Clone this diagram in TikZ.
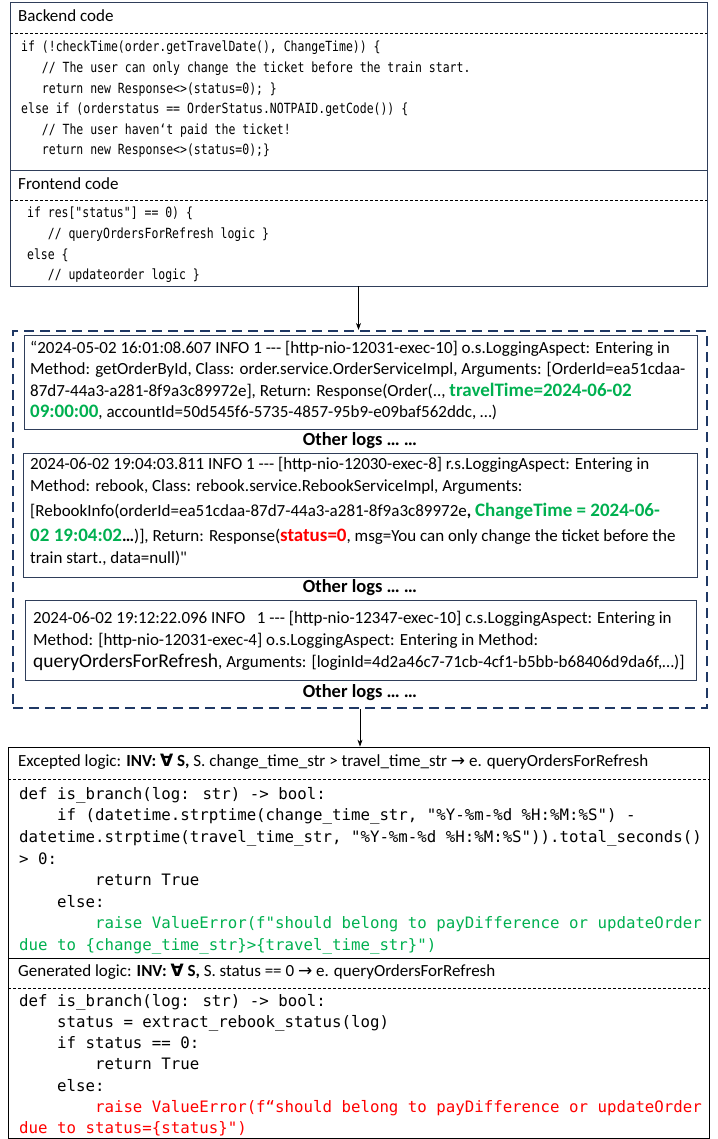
\documentclass[tikz,border=0pt]{standalone}
\usepackage{fontspec}
\setmainfont{Carlito}
\newfontfamily\logfont{Carlito}
\newfontfamily\codefont{DejaVu Sans Mono}
\newfontfamily\narrowcode{DejaVu Sans Mono}[FakeStretch=0.82]
\newfontfamily\symfont{DejaVu Sans}
\usetikzlibrary{arrows.meta}
\definecolor{loggreen}{RGB}{0,176,80}
\definecolor{logred}{RGB}{255,0,0}
\definecolor{navyline}{RGB}{31,56,100}
\definecolor{boxline}{RGB}{47,62,90}
\newcommand{\pad}[1]{\hspace*{#1\fontcharwd\font`x}}
\newcommand{\hlgreen}[1]{{\bfseries\fontsize{19}{22}\selectfont\color{loggreen}#1}}

\begin{document}
\begin{tikzpicture}[
  x=1pt, y=-1pt,
  % --- look of the boxes and texts ------------------------------------
  frame/.style={draw=boxline, line width=0.8pt, inner sep=0pt},
  logbox/.style={draw=boxline, line width=0.9pt, inner sep=0pt},
  logarea/.style={draw=navyline, line width=2.2pt, dash pattern=on 10pt off 6pt,
                  inner sep=0pt},
  result/.style={draw=black, line width=0.8pt, inner sep=0pt},
  title/.style={font=\logfont\fontsize{17}{20}\selectfont, anchor=west, inner sep=0pt},
  sepdash/.style={dash pattern=on 3pt off 2pt, line width=0.6pt},
  topcode/.style={font=\narrowcode\fontsize{14}{20.6}\selectfont, anchor=north west,
                  align=left, inner sep=0pt},
  pycode/.style={font=\codefont\fontsize{15.75}{21.6}\selectfont, anchor=north west,
                 align=left, inner sep=0pt},
  logtext/.style={font=\logfont\fontsize{17}{22}\selectfont, anchor=north west,
                  align=left, inner sep=0pt},
  otherlogs/.style={font=\logfont\bfseries\fontsize{18.5}{20}\selectfont, inner sep=0pt},
  flow/.style={-{Stealth[length=7pt,width=5pt]}, line width=0.7pt},
  % ---------------------------------------------------------------------
]
  \useasboundingbox (0,0) rectangle (717,1139);

  % code of the service
  \node[frame, minimum width=697pt, minimum height=284pt] (codebox) at (358.5,144) {};
  \node[title] (backtitle) at (18,16) {Backend code};
  \draw[sepdash] (10,33) -- (707,33);
  \node[topcode] (backcode) at (21,41) {%
    if (!checkTime(order.getTravelDate(), ChangeTime)) \{\\
    \pad{3}// The user can only change the ticket before the train start.\\
    \pad{3}return new Response<>(status=0); \}\\
    else if (orderstatus == OrderStatus.NOTPAID.getCode()) \{\\
    \pad{3}// The user haven‘t paid the ticket!\\
    \pad{3}return new Response<>(status=0);\}};
  \draw[boxline, line width=0.8pt] (10,170) -- (707,170);
  \node[title] (fronttitle) at (18,184) {Frontend code};
  \draw[sepdash] (10,200) -- (707,200);
  \node[topcode] (frontcode) at (20,207) {%
    \pad{1}if res["status"] == 0) \{\\
    \pad{4}// queryOrdersForRefresh logic \}\\
    \pad{1}else \{\\
    \pad{4}// updateorder logic \}};

  % logs
  \node[logarea, minimum width=694pt, minimum height=377pt] (logs) at (360,519.5) {};
  \node[logbox, minimum width=673pt, minimum height=94pt] (log1) at (360.5,382) {};
  \node[logtext, font=\logfont\fontsize{17}{21.3}\selectfont] (log1text) at (30,341) {%
    “2024-05-02 16:01:08.607 INFO 1 --- [http-nio-12031-exec-10] o.s.LoggingAspect: Entering in\\
    Method: getOrderById, Class: order.service.OrderServiceImpl, Arguments: [OrderId=ea51cdaa-\\
    87d7-44a3-a281-8f9a3c89972e], Return: Response(Order(.., \hlgreen{travelTime=2024-06-02}\\
    \hlgreen{09:00:00}, accountId=50d545f6-5735-4857-95b9-e09baf562ddc, …)};
  \node[otherlogs] (other1) at (360,441) {Other logs … …};

  \node[logbox, minimum width=674pt, minimum height=124pt] (log2) at (360,515) {};
  \node[logtext] (log2text) at (30,457) {%
    2024-06-02 19:04:03.811 INFO 1 --- [http-nio-12030-exec-8] r.s.LoggingAspect: Entering in\\
    Method: rebook, Class: rebook.service.RebookServiceImpl, Arguments:\\[3pt]%
    [RebookInfo(orderId=ea51cdaa-87d7-44a3-a281-8f9a3c89972e{\bfseries ,} \hlgreen{ChangeTime = 2024-06-}\\[3pt]%
    \hlgreen{02 19:04:02}{\bfseries …})], Return: Response({\bfseries\fontsize{19}{22}\selectfont\color{logred}status=0}, msg=You can only change the ticket before the\\
    train start., data=null)"};
  \node[otherlogs] (other2) at (360,588) {Other logs … …};

  \node[logbox, minimum width=671pt, minimum height=80pt] (log3) at (360.5,640) {};
  \node[logtext] (log3text) at (33,611) {%
    2024-06-02 19:12:22.096 INFO \ \ 1 --- [http-nio-12347-exec-10] c.s.LoggingAspect: Entering in\\
    Method: [http-nio-12031-exec-4] o.s.LoggingAspect: Entering in Method:\\
    {\fontsize{19.5}{22}\selectfont queryOrdersForRefresh}, Arguments: [loginId=4d2a46c7-71cb-4cf1-b5bb-b68406d9da6f,…)]};
  \node[otherlogs] (other3) at (360,693) {Other logs … …};

  % checked logic
  \node[result, minimum width=701pt, minimum height=391.5pt] (checks) at (358.5,942.75) {};
  \node[title] (wanttitle) at (18,762) {Excepted logic: {\bfseries INV: {\symfont ∀} S,} S. change\_time\_str > travel\_time\_str {\symfont →} e. queryOrdersForRefresh};
  \draw[sepdash] (8,779) -- (709,779);
  \node[pycode] (wantcode) at (19,787) {%
    def is\_branch(log: str) -> bool:\\
    \pad{4}if (datetime.strptime(change\_time\_str, "\%Y-\%m-\%d \%H:\%M:\%S") -\\
    datetime.strptime(travel\_time\_str, "\%Y-\%m-\%d \%H:\%M:\%S")).total\_seconds()\\
    > 0:\\
    \pad{8}return True\\
    \pad{4}else:\\
    \pad{8}{\color{loggreen}raise ValueError(f"should belong to payDifference or updateOrder}\\
    {\color{loggreen}due to \{change\_time\_str\}>\{travel\_time\_str\}")}};
  \draw[line width=0.8pt] (8,958) -- (709,958);
  \node[title] (gentitle) at (18,972) {Generated logic: {\bfseries INV: {\symfont ∀} S,} S. status == 0 {\symfont →} e. queryOrdersForRefresh};
  \draw[sepdash] (8,988) -- (709,988);
  \node[pycode, font=\codefont\fontsize{15.75}{21.2}\selectfont] (gencode) at (19,994) {%
    def is\_branch(log: str) -> bool:\\
    \pad{4}status = extract\_rebook\_status(log)\\
    \pad{4}if status == 0:\\
    \pad{8}return True\\
    \pad{4}else:\\
    \pad{8}{\color{logred}raise ValueError(f“should belong to payDifference or updateOrder}\\
    {\color{logred}due to status=\{status\}")}};

  % Connectors
  \draw[flow] (codebox.south) -- (codebox.south |- logs.north);
  \draw[flow] (logs.south) -- (logs.south |- checks.north);
\end{tikzpicture}
\end{document}
